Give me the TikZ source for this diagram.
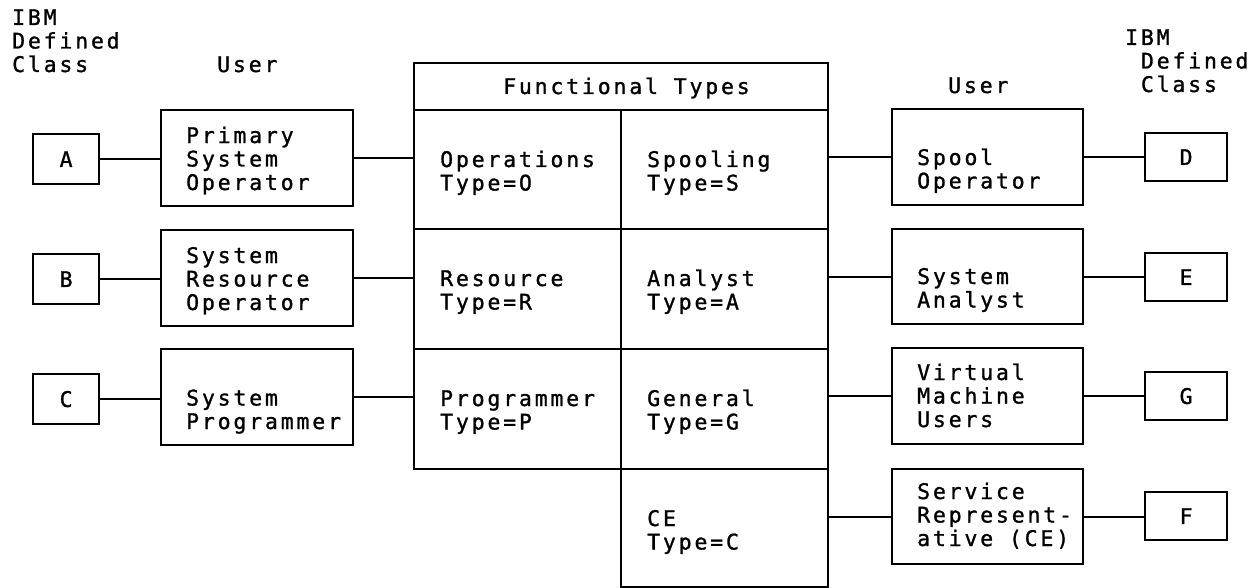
\documentclass[tikz,border=0pt]{standalone}
\usepackage{fontspec}
\newfontfamily\termfont[LetterSpace=13.1, FakeBold=1.2]{DejaVu Sans Mono}
\begin{document}
\begin{tikzpicture}[x=1pt, y=-1pt,
  box/.style={draw, line width=2.2pt, inner sep=0pt, anchor=north west,
    font=\termfont\fontsize{21.5}{23.5}\selectfont},
  % multi-line text: the base anchor sits on the last line's baseline
  txt/.style={font=\termfont\fontsize{21.5}{23.5}\selectfont, align=left,
    anchor=base west, inner sep=0pt},
  link/.style={line width=2.2pt},
  userbox/.style={box, minimum width=192pt, minimum height=96pt},
  lclass/.style={box, minimum width=66pt, minimum height=50pt},
  rclass/.style={box, minimum width=82pt, minimum height=48pt},
  cell/.style={box, minimum width=207pt, minimum height=120pt}]
\useasboundingbox (0,0) rectangle (1253,588);

% column headings
\node[txt] (lhead) at (12,72) {IBM\\Defined\\Class};
\node[txt] (luser) at (217,72) {User};
\node[txt] (ruser) at (948,93) {User};
\node[txt] (rhead) at (1125,92) {IBM\\\hspace*{15.75pt}Defined\\\hspace*{15.75pt}Class};

% left class boxes
\node[lclass] (ca) at (32,133) {A};
\node[lclass] (cb) at (32,253) {B};
\node[lclass] (cc) at (32,373) {C};

% left user boxes
\node[userbox] (pso) at (160,109) {};
\node[userbox] (sro) at (160,229) {};
\node[userbox] (spg) at (160,348) {};
\node[txt] (tpso) at (186,190) {Primary\\System\\Operator};
\node[txt] (tsro) at (186,310) {System\\Resource\\Operator};
\node[txt] (tspg) at (186,429) {System\\Programmer};

% functional types table
\node[box, minimum width=414pt, minimum height=47pt] (hdr) at (413,62) {};
\node[txt] (thdr) at (503,94) {Functional Types};
\node[cell, minimum height=119pt] (ops) at (413,109) {};
\node[cell, minimum height=119pt] (spl) at (620,109) {};
\node[cell] (res) at (413,228) {};
\node[cell] (ana) at (620,228) {};
\node[cell] (prg) at (413,348) {};
\node[cell] (gen) at (620,348) {};
\node[cell, minimum height=118pt] (ce) at (620,468) {};
\node[txt] (tops) at (440,190.5) {Operations\\Type=O};
\node[txt] (tspl) at (647,190.5) {Spooling\\Type=S};
\node[txt] (tres) at (440,309.5) {Resource\\Type=R};
\node[txt] (tana) at (647,309.5) {Analyst\\Type=A};
\node[txt] (tprg) at (440,429.5) {Programmer\\Type=P};
\node[txt] (tgen) at (647,429.5) {General\\Type=G};
\node[txt] (tce) at (647,549.5) {CE\\Type=C};

% right user boxes
\node[userbox, minimum width=191pt] (spo) at (891,108) {};
\node[userbox, minimum width=191pt, minimum height=95pt] (san) at (891,228) {};
\node[userbox, minimum width=191pt] (vmu) at (891,347) {};
\node[userbox, minimum width=191pt, minimum height=95pt] (ser) at (891,468) {};
\node[txt] (tspo) at (917,188.5) {Spool\\Operator};
\node[txt] (tsan) at (917,307.5) {System\\Analyst};
\node[txt] (tvmu) at (917,427) {Virtual\\Machine\\Users};
\node[txt] (tser) at (917,546) {Service\\Represent-\\ative (CE)};

% right class boxes
\node[rclass] (cd) at (1144,132) {D};
\node[rclass] (ce2) at (1144,252) {E};
\node[rclass] (cg) at (1144,371) {G};
\node[rclass] (cf) at (1144,491) {F};

% connectors, left side
\draw[link] (ca.east) -- (ca.east -| pso.west);
\draw[link] (cb.east) -- (cb.east -| sro.west);
\draw[link] (cc.east) -- (cc.east -| spg.west);
\draw[link] (pso.east) -- (pso.east -| ops.west);
\draw[link] (sro.east) -- (sro.east -| res.west);
\draw[link] (spg.east) -- (spg.east -| prg.west);

% connectors, right side
\draw[link] (spl.east |- spo.west) -- (spo.west);
\draw[link] (ana.east |- san.west) -- (san.west);
\draw[link] (gen.east |- vmu.west) -- (vmu.west);
\draw[link] (ce.east |- ser.west) -- (ser.west);
\draw[link] (spo.east) -- (spo.east -| cd.west);
\draw[link] (san.east) -- (san.east -| ce2.west);
\draw[link] (vmu.east) -- (vmu.east -| cg.west);
\draw[link] (ser.east) -- (ser.east -| cf.west);
\end{tikzpicture}
\end{document}
